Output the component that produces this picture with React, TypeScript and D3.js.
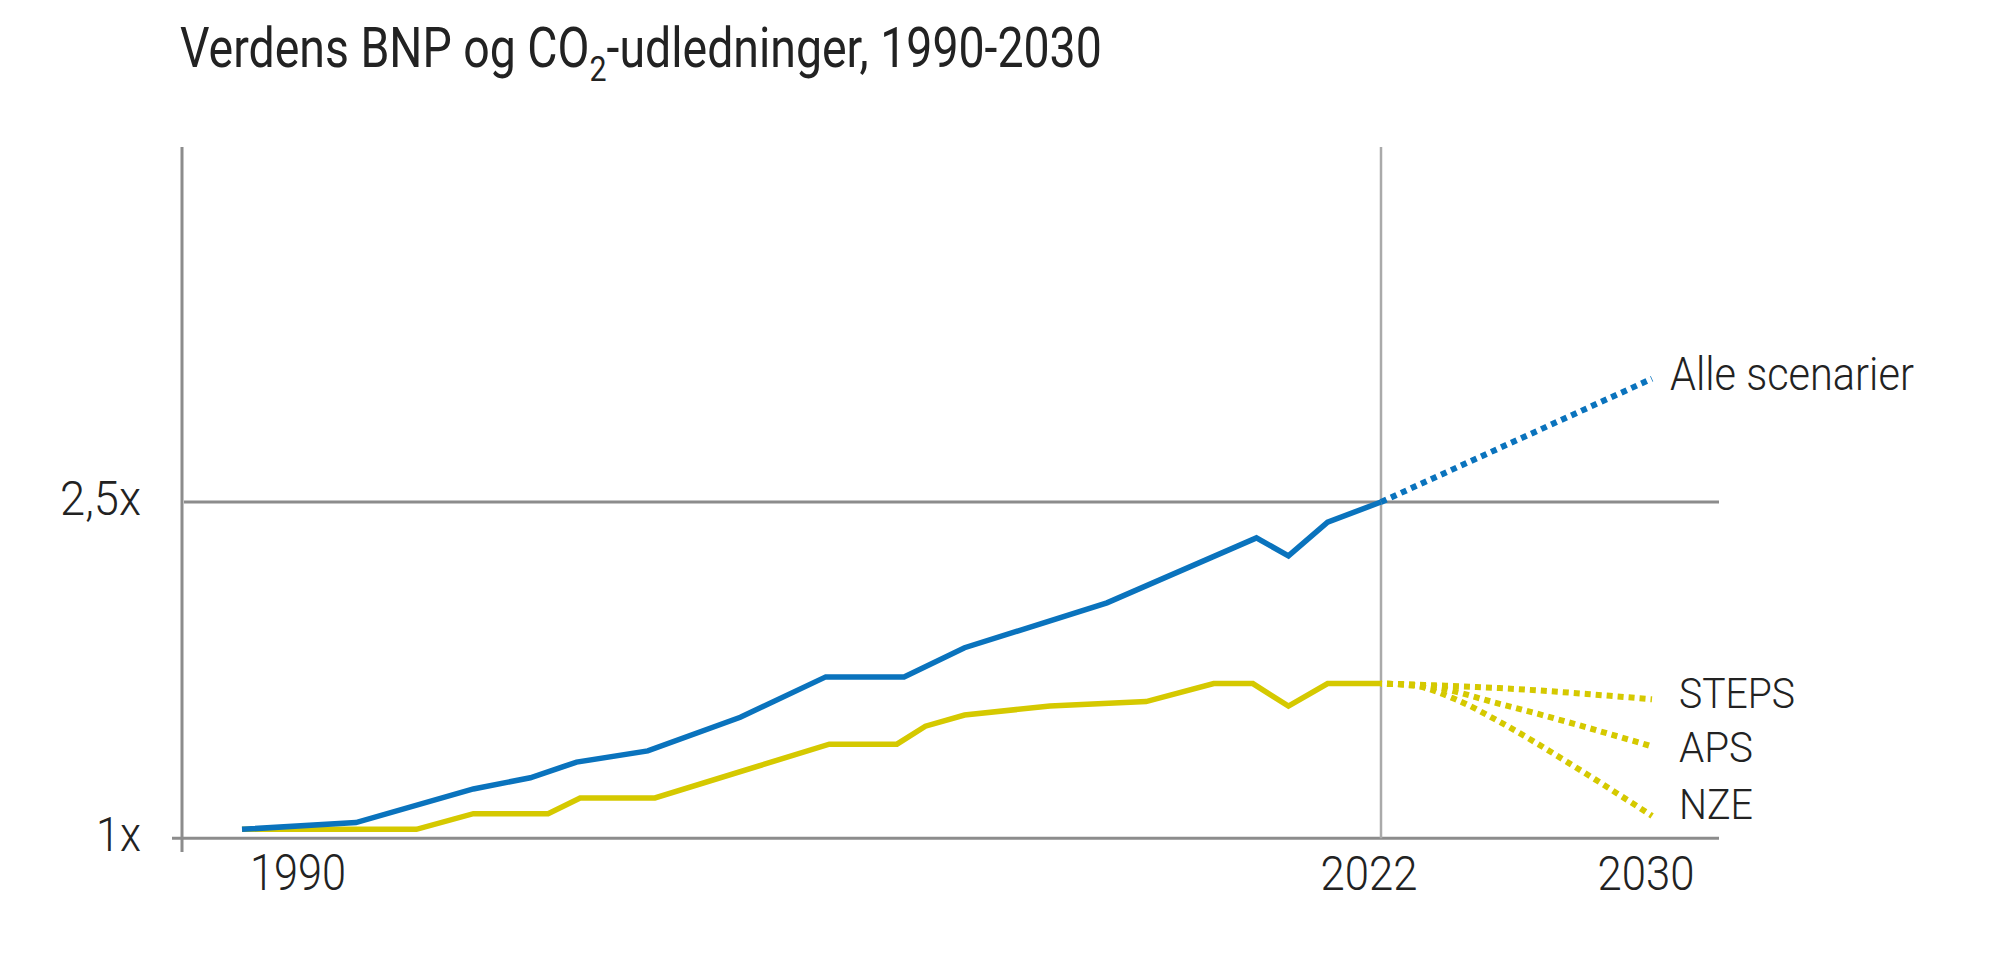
import { useRef, useEffect } from 'react';
import * as d3 from 'd3';

const W = 2000;
const H = 956;

// historical GDP (index, 1990 = 1x)
const gdpYears = [1990, 1993.2, 1996.5, 1998.1, 1999.4, 2001.4, 2004, 2006.4, 2008.6, 2010.3, 2014.3, 2018.5, 2019.4, 2020.5, 2022];
const gdpValues = [1.04, 1.07, 1.22, 1.27, 1.34, 1.39, 1.54, 1.72, 1.72, 1.85, 2.05, 2.34, 2.26, 2.41, 2.5];

// historical CO2 emissions
const co2Years = [1990, 1994.9, 1996.5, 1998.6, 1999.5, 2001.6, 2006.5, 2008.4, 2009.2, 2010.3, 2012.7, 2015.4, 2017.3, 2018.4, 2019.4, 2020.5, 2022];
const co2Values = [1.04, 1.04, 1.11, 1.11, 1.18, 1.18, 1.42, 1.42, 1.5, 1.55, 1.59, 1.61, 1.69, 1.69, 1.59, 1.69, 1.69];

// projections to 2030
const gdpProjYears = [2022, 2030];
const gdpProjValues = [2.5, 3.05];
const stepsYears = [2022, 2025.5, 2030];
const stepsValues = [1.69, 1.67, 1.62];
const apsYears = [2022, 2023.3, 2025.5, 2030];
const apsValues = [1.69, 1.68, 1.6, 1.41];
const nzeYears = [2022, 2023, 2024.2, 2025.5, 2027.5, 2030];
const nzeValues = [1.69, 1.68, 1.62, 1.52, 1.34, 1.1];

const yTicks = [1, 2.5];
const yTickLabels = ['1x', '2,5x'];
const xTicks = [1990, 2022, 2030];

const BLUE = '#0a73bd';
const YELLOW = '#d5c900';
const GRID = '#8c8c8c';
const TEXT = '#222222';

type Pt = { year: number; value: number };
const zip = (ys: number[], vs: number[]): Pt[] => ys.map((y, i) => ({ year: y, value: vs[i] }));

export default function App() {
  const svgRef = useRef<SVGSVGElement>(null);

  useEffect(() => {
    document.body.style.margin = '0';
    const svg = d3.select(svgRef.current);
    svg.selectAll('*').remove();

    const x = d3.scaleLinear().domain([1990, 2022, 2030]).range([242, 1381, 1652]);
    const y = d3.scaleLinear().domain([1, 2.5]).range([838.3, 502]);

    svg.append('rect').attr('width', W).attr('height', H).attr('fill', '#ffffff');

    // helper: condensed text, squeezed to a given width
    function label(
      txt: string,
      tx: number,
      ty: number,
      size: number,
      weight: number,
      anchor: string,
      width: number,
    ) {
      const g = svg.append('g').attr('transform', `translate(${tx},${ty})`);
      const t = g
        .append('text')
        .attr('font-family', 'Roboto, "Noto Sans", sans-serif')
        .attr('font-size', size)
        .attr('font-weight', weight)
        .attr('fill', TEXT)
        .attr('text-anchor', anchor)
        .text(txt);
      const len = (t.node() as SVGTextElement).getComputedTextLength();
      if (len > 0) g.attr('transform', `translate(${tx},${ty}) scale(${width / len},1)`);
      return t;
    }

    // Title with subscript
    {
      const g = svg.append('g').attr('transform', 'translate(180,67)');
      const t = g
        .append('text')
        .attr('font-family', 'Roboto, "Noto Sans", sans-serif')
        .attr('font-size', 55)
        .attr('font-weight', 400)
        .attr('fill', TEXT);
      t.append('tspan').text('Verdens BNP og CO');
      t.append('tspan').attr('font-size', 36).attr('dy', 14).text('2');
      t.append('tspan').attr('dy', -14).text('-udledninger, 1990-2030');
      const bb = (t.node() as SVGTextElement).getBBox();
      if (bb.width > 0) g.attr('transform', `translate(180,67) scale(${922 / bb.width},1)`);
    }

    // gridlines
    yTicks.forEach((v) => {
      svg
        .append('line')
        .attr('x1', v === 1 ? 172 : 184)
        .attr('x2', 1719)
        .attr('y1', y(v))
        .attr('y2', y(v))
        .attr('stroke', GRID)
        .attr('stroke-width', 3);
    });

    // y axis
    svg
      .append('line')
      .attr('x1', 182)
      .attr('x2', 182)
      .attr('y1', 147)
      .attr('y2', 852)
      .attr('stroke', GRID)
      .attr('stroke-width', 3);

    // 2022 divider
    svg
      .append('line')
      .attr('x1', x(2022))
      .attr('x2', x(2022))
      .attr('y1', 147)
      .attr('y2', y(1))
      .attr('stroke', '#aaaaaa')
      .attr('stroke-width', 2.5);

    // y tick labels
    yTicks.forEach((v, i) => {
      label(yTickLabels[i], 141, y(v) + 13, 49, 300, 'end', i === 0 ? 45 : 81);
    });

    // x tick labels
    xTicks.forEach((v) => {
      if (v === 1990) label(String(v), x(v) + 8, 890, 49, 300, 'start', 96);
      else label(String(v), x(v) - (v === 2022 ? 12 : 6), 890, 49, 300, 'middle', 97);
    });

    const line = d3
      .line<Pt>()
      .x((d) => x(d.year))
      .y((d) => y(d.value));
    const curve = d3
      .line<Pt>()
      .x((d) => x(d.year))
      .y((d) => y(d.value))
      .curve(d3.curveMonotoneX);

    // projections (dotted)
    [
      { ys: stepsYears, vs: stepsValues },
      { ys: apsYears, vs: apsValues },
      { ys: nzeYears, vs: nzeValues },
    ].forEach((s) => {
      svg
        .append('path')
        .attr('d', curve(zip(s.ys, s.vs)))
        .attr('fill', 'none')
        .attr('stroke', YELLOW)
        .attr('stroke-width', 6)
        .attr('stroke-dasharray', '6,5')
        .attr('stroke-dashoffset', -6);
    });
    svg
      .append('path')
      .attr('d', line(zip(gdpProjYears, gdpProjValues)))
      .attr('fill', 'none')
      .attr('stroke', BLUE)
      .attr('stroke-width', 6)
      .attr('stroke-dasharray', '6,5');

    // historical lines
    svg
      .append('path')
      .attr('d', line(zip(co2Years, co2Values)))
      .attr('fill', 'none')
      .attr('stroke', YELLOW)
      .attr('stroke-width', 5.5)
      .attr('stroke-linejoin', 'miter');
    svg
      .append('path')
      .attr('d', line(zip(gdpYears, gdpValues)))
      .attr('fill', 'none')
      .attr('stroke', BLUE)
      .attr('stroke-width', 5.5)
      .attr('stroke-linejoin', 'miter');

    // scenario labels
    label('Alle scenarier', 1670, 390, 46, 300, 'start', 244);
    label('STEPS', 1679, 708, 43, 300, 'start', 116);
    label('APS', 1679, 762, 43, 300, 'start', 74);
    label('NZE', 1679, 819, 43, 300, 'start', 74);
  }, []);

  return <svg ref={svgRef} width={W} height={H} style={{ display: 'block' }} />;
}
